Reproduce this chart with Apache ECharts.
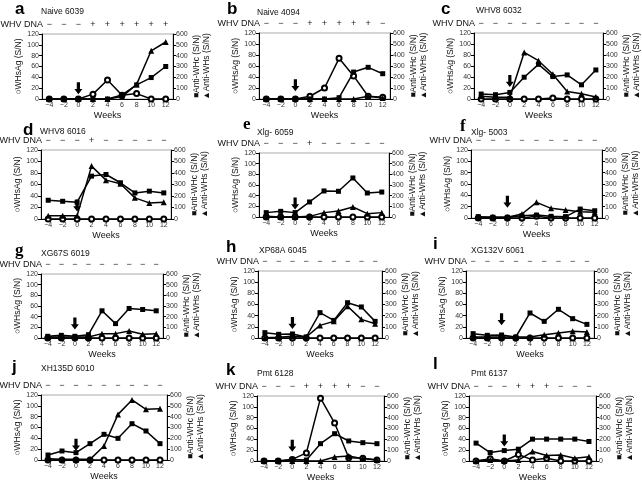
<!DOCTYPE html>
<html>
<head>
<meta charset="utf-8">
<script src="https://cdn.jsdelivr.net/npm/echarts/dist/echarts.min.js"></script>
<style>
  html, body { margin: 0; padding: 0; background: #fff; }
  #chart { width: 642px; height: 483px; }
</style>
</head>
<body>
<div id="chart"></div>
<script>
// weeks after infection, shared by all twelve panels
const weeks = ['−4', '−2', '0', '2', '4', '6', '8', '10', '12']

const panelLetters = ['a', 'b', 'c', 'd', 'e', 'f', 'g', 'h', 'i', 'j', 'k', 'l']
const panelNames = ['Naive 6039', 'Naive 4094', 'WHV8 6032', 'WHV8 6016', 'Xlg- 6059', 'Xlg- 5003',
  'XG67S 6019', 'XP68A 6045', 'XG132V 6061', 'XH135D 6010', 'Pmt 6128', 'Pmt 6137']

// WHV DNA result row (above each plot)
const whvDna = [
  ['−', '−', '−', '+', '+', '+', '+', '+', '+'],
  ['−', '−', '−', '+', '+', '+', '+', '+', '−'],
  ['−', '−', '−', '−', '−', '−', '−', '−', '−'],
  ['−', '−', '−', '+', '−', '−', '−', '−', '−'],
  ['−', '−', '−', '+', '−', '−', '−', '−', '−'],
  ['−', '−', '−', '−', '−', '−', '−', '−', '−'],
  ['−', '−', '−', '−', '−', '−', '−', '−', '−'],
  ['−', '−', '−', '−', '−', '−', '−', '−', '−'],
  ['−', '−', '−', '−', '−', '−', '−', '−', '−'],
  ['−', '−', '−', '−', '−', '−', '−', '−', '−'],
  ['−', '−', '−', '+', '+', '+', '+', '−', '−'],
  ['−', '−', '−', '+', '+', '+', '−', '−', '−']
]

// WHsAg (S/N), left axis 0-120
const whsag = [
  [0, 0, 0, 9, 35, 7, 10, 0, 0],
  [0, 0, 0, 5, 20, 74, 42, 5, 3],
  [0, 0, 0, 0, 0, 2, 0, 0, 0],
  [0, 0, 0, 0, 0, 0, 0, 0, 0],
  [0, 0, 0, 0, 0, 0, 0, 0, 0],
  [0, 0, 0, 0, 3, 0, 0, 0, 0],
  [0, 0, 0, 0, 0, 0, 0, 0, 0],
  [0, 0, 0, 0, 0, 0, 0, 0, 0],
  [0, 0, 0, 0, 0, 0, 0, 0, 0],
  [0, 0, 0, 0, 0, 0, 0, 0, 0],
  [0, 0, 3, 15, 116, 70, 6, 5, 2],
  [0, 4, 0, 12, 2, 5, 0, 0, 0]
]

// Anti-WHc (S/N), right axis 0-600
const antiWHc = [
  [0, 0, 0, 0, 0, 37, 130, 198, 300],
  [0, 0, 0, 0, 0, 12, 245, 288, 230],
  [45, 39, 60, 198, 315, 204, 219, 129, 264],
  [163, 154, 146, 373, 387, 315, 227, 242, 227],
  [41, 53, 41, 141, 244, 241, 366, 225, 234],
  [12, 6, 6, 20, 26, 15, 12, 79, 64],
  [16, 25, 16, 31, 255, 135, 277, 267, 255],
  [48, 33, 36, 9, 227, 158, 316, 278, 149],
  [39, 24, 27, 9, 224, 149, 257, 173, 122],
  [46, 83, 68, 151, 237, 200, 335, 268, 151],
  [0, 0, 15, 9, 160, 252, 185, 169, 160],
  [165, 78, 96, 109, 202, 202, 202, 202, 180]
]

// Anti-WHs (S/N), right axis 0-600
const antiWHs = [
  [0, 0, 0, 0, 0, 22, 135, 445, 526],
  [0, 0, 0, 0, 0, 0, 0, 24, 10],
  [24, 15, 15, 423, 348, 225, 69, 48, 18],
  [29, 29, 29, 460, 338, 306, 184, 140, 146],
  [6, 0, 0, 6, 41, 56, 94, 31, 41],
  [6, 6, 6, 35, 138, 85, 70, 56, 50],
  [9, 9, 9, 9, 41, 41, 66, 35, 41],
  [3, 6, 15, 9, 113, 149, 284, 167, 128],
  [9, 9, 9, 9, 9, 30, 45, 60, 54],
  [12, 6, 6, 6, 129, 421, 554, 468, 474],
  [0, 0, 0, 0, 0, 37, 46, 22, 9],
  [0, 9, 0, 9, 87, 50, 56, 25, 40]
]

// where the inoculation arrow tip sits (WHsAg units, at week 0)
const arrowTip = [9, 14, 22, 13, 14, 18, 16, 16, 23, 17, 17, 27]

// layout: plot boxes [left, top, width, height]
const gridBoxes = [
  [42, 34, 131, 65], [259, 33, 131, 66], [474, 33, 130, 66],
  [41, 150, 130, 69], [259, 153, 130, 64], [471, 150, 131, 68],
  [41, 274, 122, 64], [258, 271, 124, 67], [466, 271, 128, 67],
  [41, 395, 126, 65], [257, 396, 127, 65], [469, 396, 127, 65]
]
// panel letter [x, baseline], subtitle [x, centre y]
const letterPos = [[15, 15], [227, 15], [441, 15], [23, 136], [243, 131], [460, 133],
  [15, 257], [226, 253], [433, 250], [12, 373], [226, 376], [433, 370]]
const subPos = [[41, 11.5], [257, 13], [476, 11], [40, 132], [257, 132.7], [471, 132.7],
  [41, 253.7], [259, 251], [471, 251], [41, 369], [257, 374], [471, 374]]

const FONT = '"Liberation Sans", Arial, sans-serif'
const arrowPath = 'path://M3,0 L7,0 L7,9 L10,9 L5,16 L0,9 L3,9 Z'

const option = {
  animation: false,
  backgroundColor: '#fff',
  textStyle: { fontFamily: FONT },
  grid: [],
  xAxis: [],
  yAxis: [],
  series: [],
  graphic: []
}

panelLetters.forEach((letter, i) => {
  const g = gridBoxes[i]
  option.grid.push({
    left: g[0], top: g[1], width: g[2], height: g[3],
    show: true, borderColor: '#aaa', borderWidth: 1
  })

  // bottom weeks axis
  option.xAxis.push({
    gridIndex: i,
    type: 'category',
    data: weeks,
    boundaryGap: true,
    axisLine: { lineStyle: { color: '#000', width: 1 } },
    axisTick: { alignWithLabel: true, length: 3, lineStyle: { color: '#000' } },
    axisLabel: { fontSize: 7, color: '#333', margin: 3, interval: 0 },
    name: 'Weeks',
    nameLocation: 'middle',
    nameGap: 12,
    nameTextStyle: { fontSize: 9, color: '#111' }
  })
  // WHV DNA row on top
  option.xAxis.push({
    gridIndex: i,
    type: 'category',
    position: 'top',
    data: whvDna[i],
    boundaryGap: true,
    offset: 9,
    axisLine: { show: false },
    axisTick: { show: false },
    axisLabel: { fontSize: 9, color: '#222', margin: 0, verticalAlign: 'middle', interval: 0 }
  })

  option.yAxis.push({
    gridIndex: i,
    type: 'value',
    position: 'left',
    min: 0, max: 120, interval: 20,
    axisLine: { show: true, lineStyle: { color: '#000' } },
    axisTick: { show: true, length: 3, lineStyle: { color: '#000' } },
    axisLabel: { fontSize: 7, color: '#333', margin: 3 },
    splitLine: { show: false },
    name: '○WHsAg (S/N)',
    nameLocation: 'middle',
    nameGap: 19,
    nameRotate: 90,
    nameTextStyle: { fontSize: 8.5, color: '#111' }
  })
  option.yAxis.push({
    gridIndex: i,
    type: 'value',
    position: 'right',
    min: 0, max: 600, interval: 100,
    axisLine: { show: true, lineStyle: { color: '#000' } },
    axisTick: { show: true, length: 3, lineStyle: { color: '#000' } },
    axisLabel: { fontSize: 7, color: '#333', margin: 3 },
    splitLine: { show: false },
    name: '■Anti-WHc (S/N)',
    nameLocation: 'middle',
    nameGap: 19,
    nameRotate: 90,
    nameTextStyle: { fontSize: 8.5, color: '#111' }
  })
  // holds the second right-hand title only
  option.yAxis.push({
    gridIndex: i,
    type: 'value',
    position: 'right',
    min: 0, max: 600,
    axisLine: { show: false },
    axisTick: { show: false },
    axisLabel: { show: false },
    splitLine: { show: false },
    name: '▲Anti-WHs (S/N)',
    nameLocation: 'middle',
    nameGap: 29,
    nameRotate: 90,
    nameTextStyle: { fontSize: 8.5, color: '#111' }
  })

  const lineStyle = { color: '#000', width: 1.5 }
  option.series.push({
    name: 'WHsAg',
    type: 'line',
    xAxisIndex: i * 2,
    yAxisIndex: i * 3,
    data: whsag[i],
    symbol: 'emptyCircle',
    symbolSize: 5,
    showAllSymbol: true,
    itemStyle: { color: '#000', borderWidth: 1 },
    lineStyle: lineStyle,
    z: 3,
    markPoint: {
      symbol: arrowPath,
      symbolSize: [8, 12],
      symbolOffset: [0, '-50%'],
      itemStyle: { color: '#000' },
      label: { show: false },
      data: [{ coord: [weeks[2], arrowTip[i]] }]
    }
  })
  option.series.push({
    name: 'Anti-WHc',
    type: 'line',
    xAxisIndex: i * 2,
    yAxisIndex: i * 3 + 1,
    data: antiWHc[i],
    symbol: 'rect',
    symbolSize: 5,
    showAllSymbol: true,
    itemStyle: { color: '#000' },
    lineStyle: lineStyle,
    z: 4
  })
  option.series.push({
    name: 'Anti-WHs',
    type: 'line',
    xAxisIndex: i * 2,
    yAxisIndex: i * 3 + 1,
    data: antiWHs[i],
    symbol: 'triangle',
    symbolSize: 6,
    showAllSymbol: true,
    itemStyle: { color: '#000' },
    lineStyle: lineStyle,
    z: 5
  })

  // panel letter, animal name and the WHV DNA row title
  const serif = letter === 'e' || letter === 'f' || letter === 'g'
  option.graphic.push({
    type: 'text',
    x: letterPos[i][0],
    y: letterPos[i][1] - 6,
    style: {
      text: letter,
      font: 'bold 17px ' + (serif ? '"Liberation Serif", serif' : FONT),
      fill: '#000',
      verticalAlign: 'middle'
    }
  })
  option.graphic.push({
    type: 'text',
    x: subPos[i][0],
    y: subPos[i][1],
    style: {
      text: panelNames[i],
      font: '8.5px ' + FONT,
      fill: '#111',
      verticalAlign: 'middle'
    }
  })
  option.graphic.push({
    type: 'text',
    x: g[0] + 1,
    y: g[1] - 9,
    style: {
      text: 'WHV DNA',
      font: '9px ' + FONT,
      fill: '#111',
      align: 'right',
      verticalAlign: 'middle'
    }
  })
})

const chart = echarts.init(document.getElementById('chart'))
chart.setOption(option)
</script>
</body>
</html>
